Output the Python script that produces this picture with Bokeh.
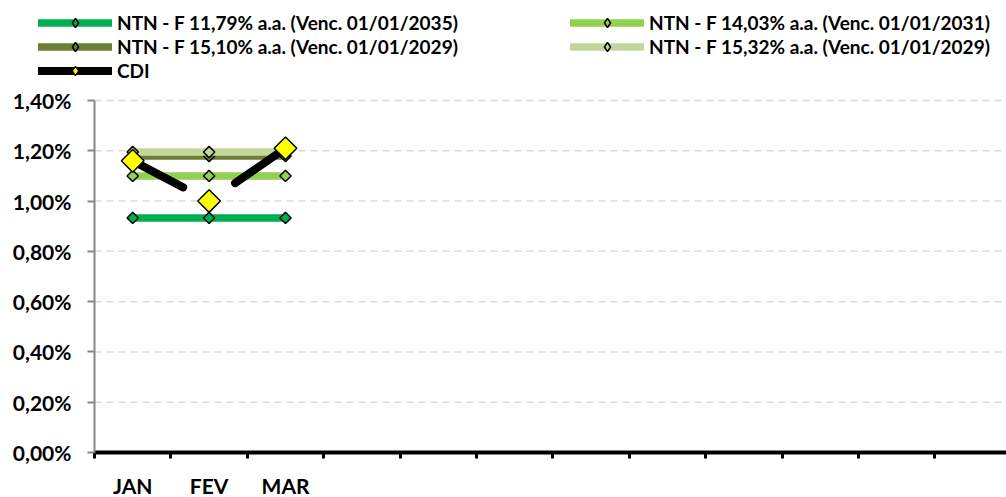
from bokeh.plotting import figure
from bokeh.models import Range1d, FixedTicker, Legend, LegendItem
from bokeh.embed import file_html
from bokeh.resources import INLINE
import numpy as np

# ---------------- data ----------------
months = ["JAN", "FEV", "MAR"]
n_slots = 12
ntn_1179 = [0.933, 0.933, 0.933]
ntn_1403 = [1.100, 1.100, 1.100]
ntn_1510 = [1.179, 1.179, 1.179]
ntn_1532 = [1.195, 1.195, 1.195]
cdi = [1.16, 1.00, 1.21]
y_ticks = [0.0, 0.2, 0.4, 0.6, 0.8, 1.0, 1.2, 1.4]
y_tick_labels = ["0,00%", "0,20%", "0,40%", "0,60%", "0,80%", "1,00%", "1,20%", "1,40%"]
names = [
    "NTN - F 11,79% a.a. (Venc. 01/01/2035)",
    "NTN - F 14,03% a.a. (Venc. 01/01/2031)",
    "NTN - F 15,10% a.a. (Venc. 01/01/2029)",
    "NTN - F 15,32% a.a. (Venc. 01/01/2029)",
    "CDI",
]

# ---------------- style / geometry ----------------
FONT = "Lato"
colors = ["#00B050", "#92D050", "#6B7F35", "#C4D79B"]
gap_points = [1]      # CDI line is broken around this point
gap_frac = 0.34

W, H = 1006, 497
PX_LEFT, PX_BOTTOM, PX_TOP, SLOT_PX = 94, 452, 100, 76.4
y_max = y_ticks[-1]
ppu = (PX_BOTTOM - PX_TOP) / y_max
x_start, x_end = -PX_LEFT / SLOT_PX, (W - PX_LEFT) / SLOT_PX
y_start, y_end = -(H - PX_BOTTOM) / ppu, PX_BOTTOM / ppu

x = [i + 0.5 for i in range(len(months))]

p = figure(width=W, height=H, output_backend="svg", toolbar_location=None,
           x_range=Range1d(x_start, x_end), y_range=Range1d(y_start, y_end),
           min_border_left=0, min_border_right=0, min_border_top=0, min_border_bottom=0)
p.outline_line_color = None
p.background_fill_color = "white"
p.border_fill_color = "white"
p.xgrid.visible = False
p.ygrid.visible = False

# dashed horizontal gridlines, only over the plot area
p.segment(x0=[0] * len(y_ticks[1:]), x1=[x_end] * len(y_ticks[1:]),
          y0=y_ticks[1:], y1=y_ticks[1:],
          line_color="#D9D9D9", line_dash="7 5", line_width=1.5)

# y axis
ya = p.yaxis[0]
ya.fixed_location = 0
ya.bounds = (0, y_max)
ya.ticker = FixedTicker(ticks=y_ticks)
ya.major_label_overrides = dict(zip(y_ticks, y_tick_labels))
ya.axis_line_color = "#868686"
ya.axis_line_width = 2
ya.major_tick_line_color = "#868686"
ya.major_tick_line_width = 2
ya.major_tick_out = 7
ya.major_tick_in = 0
ya.minor_tick_line_color = None
ya.major_label_standoff = 16
ya.major_label_text_font = FONT
ya.major_label_text_font_style = "bold"
ya.major_label_text_font_size = "21px"
ya.major_label_text_color = "black"

# x axis
xa = p.xaxis[0]
xa.fixed_location = 0
xa.bounds = (0, n_slots)
xa.ticker = FixedTicker(ticks=x, minor_ticks=list(range(n_slots + 1)))
xa.major_label_overrides = dict(zip(x, months))
xa.axis_line_color = "black"
xa.axis_line_width = 4
xa.major_tick_line_color = None
xa.major_tick_out = 6
xa.major_tick_in = 0
xa.minor_tick_line_color = "black"
xa.minor_tick_line_width = 3
xa.minor_tick_out = 6
xa.minor_tick_in = 0
xa.major_label_standoff = 14
xa.major_label_text_font = FONT
xa.major_label_text_font_style = "bold"
xa.major_label_text_font_size = "21px"
xa.major_label_text_color = "black"

series = [ntn_1179, ntn_1403, ntn_1510, ntn_1532]
items = []
for vals, col, name in zip(series, colors, names[:4]):
    ln = p.line(x, vals, line_color=col, line_width=7.5, line_cap="round")
    p.scatter(x, vals, marker="square", angle=np.pi / 4, size=8,
              fill_color=col, line_color="black", line_width=1.5)
    # diamond used only for the legend swatch
    lm = p.scatter(x, vals, marker="diamond", size=9, fill_color=col,
                   line_color="black", line_width=1.5, visible=False)
    items.append(LegendItem(label=name, renderers=[ln, lm]))

# CDI line, broken around gap points
x0, y0, x1, y1 = [], [], [], []
for i in range(len(cdi) - 1):
    ax, ay, bx, by = x[i], cdi[i], x[i + 1], cdi[i + 1]
    sx, sy, ex, ey = ax, ay, bx, by
    if i in gap_points:
        sx = ax + (bx - ax) * gap_frac
        sy = ay + (by - ay) * gap_frac
    if (i + 1) in gap_points:
        ex = bx - (bx - ax) * gap_frac
        ey = by - (by - ay) * gap_frac
    x0.append(sx); y0.append(sy); x1.append(ex); y1.append(ey)
seg = p.segment(x0, y0, x1, y1, line_color="black", line_width=8, line_cap="round")
p.scatter(x, cdi, marker="square", angle=np.pi / 4, size=16,
          fill_color="#FFFF00", line_color="black", line_width=1.5)
clm = p.scatter(x, cdi, marker="diamond", size=9, fill_color="#FFFF00",
                line_color="black", line_width=1.2, visible=False)
items.append(LegendItem(label=names[4], renderers=[seg, clm]))

def make_legend(its, left, top):
    nrows = len(its)
    row_h, spacing = 23, 1
    h = nrows * row_h + (nrows - 1) * spacing
    lg = Legend(items=its, location=(left, H - top - h), orientation="vertical")
    lg.border_line_color = None
    lg.background_fill_alpha = 0
    lg.padding = 0
    lg.margin = 0
    lg.spacing = spacing
    lg.glyph_width = 74
    lg.glyph_height = row_h
    lg.label_height = row_h
    lg.label_standoff = 5
    lg.label_text_font = FONT
    lg.label_text_font_style = "bold"
    lg.label_text_font_size = "19px"
    lg.label_text_color = "black"
    return lg

p.add_layout(make_legend([items[0], items[2], items[4]], 38, 11))
p.add_layout(make_legend([items[1], items[3]], 570, 11))

open("out.html", "w").write(file_html(p, INLINE))
